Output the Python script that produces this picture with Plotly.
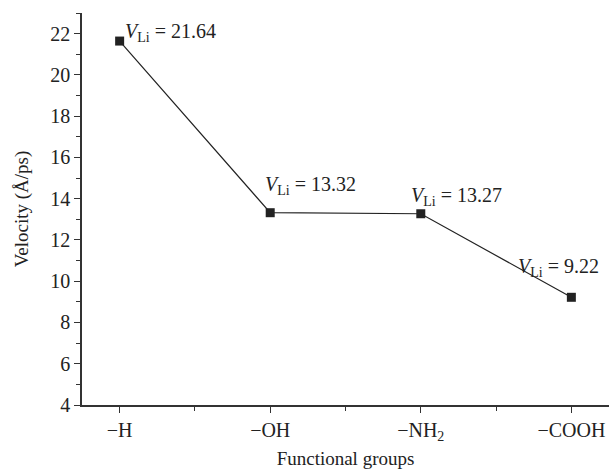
import plotly.graph_objects as go

groups = ["−H", "−OH", "−NH<sub>2</sub>", "−COOH"]
velocity = [21.64, 13.32, 13.27, 9.22]
labels = ["<i>V</i><sub>Li</sub> = 21.64", "<i>V</i><sub>Li</sub> = 13.32",
          "<i>V</i><sub>Li</sub> = 13.27", "<i>V</i><sub>Li</sub> = 9.22"]
yticks = [4, 6, 8, 10, 12, 14, 16, 18, 20, 22]

xs = list(range(len(groups)))
font = "Liberation Serif, Times New Roman, serif"
ink = "#222222"

fig = go.Figure()
fig.add_trace(go.Scatter(
    x=xs, y=velocity, mode="lines+markers",
    line=dict(color=ink, width=1.2),
    marker=dict(symbol="square", size=9, color=ink),
    showlegend=False, hoverinfo="skip"))

shifts = [(3, -6), (-7, 13), (-12, 3), (-55, 15)]
for x, y, t, (dx, dy) in zip(xs, velocity, labels, shifts):
    fig.add_annotation(x=x, y=y, xref="x", yref="y", text=t, showarrow=False,
                       xanchor="left", yanchor="bottom", xshift=dx, yshift=dy,
                       font=dict(family=font, size=20, color=ink))

fig.update_layout(
    width=609, height=472,
    margin=dict(l=82, r=0, t=13, b=67),
    paper_bgcolor="white", plot_bgcolor="white",
    font=dict(family=font, size=19, color=ink),
    xaxis=dict(
        range=[-0.25, 3.25], tickvals=xs, ticktext=groups,
        showgrid=False, zeroline=False, showline=True, linecolor="#333333", linewidth=1.5,
        ticks="outside", ticklen=6, tickwidth=1.3, tickcolor="#333333",
        minor=dict(ticks="outside", ticklen=4, tickwidth=1.2, tickcolor="#333333",
                   tickmode="linear", tick0=0, dtick=0.5),
        tickfont=dict(family=font, size=20, color=ink),
        title=dict(text="Functional groups", font=dict(family=font, size=19, color=ink), standoff=9),
    ),
    yaxis=dict(
        range=[4, 23], tickvals=yticks,
        showgrid=False, zeroline=False, showline=True, linecolor="#333333", linewidth=1.5,
        ticks="outside", ticklen=6, tickwidth=1.3, tickcolor="#333333",
        minor=dict(ticks="outside", ticklen=4, tickwidth=1.2, tickcolor="#333333",
                   tickmode="linear", tick0=0, dtick=1),
        tickfont=dict(family=font, size=20, color=ink),
        title=dict(text="Velocity (Å/ps)", font=dict(family=font, size=19, color=ink), standoff=17),
    ),
)

fig.write_html("out.html")
